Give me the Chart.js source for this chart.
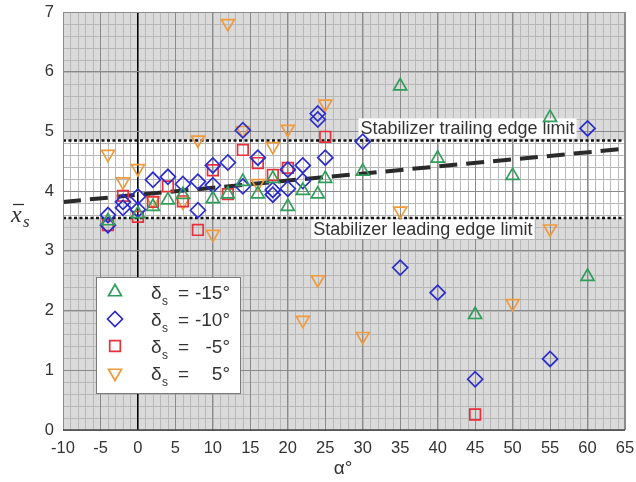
<!DOCTYPE html>
<html>
<head>
<meta charset="utf-8">
<script src="https://cdn.jsdelivr.net/npm/chart.js@4.4.0/dist/chart.umd.min.js"></script>
<style>
  html, body { margin: 0; padding: 0; background: #fff; }
  #wrap { width: 636px; height: 482px; }
</style>
</head>
<body>
<div id="wrap"><canvas id="xsChart" width="636" height="482"></canvas></div>
<script>
// Position moyenne x̄s en fonction de l'incidence α, pour 4 braquages du stabilisateur

// δs = -15°
const alphaM15 = [-4, 0, 2, 4, 6, 10, 12, 14, 16, 18, 20, 22, 24, 25, 30, 35, 40, 45, 50, 55, 60];
const xsM15 = [3.5, 3.62, 3.74, 3.85, 3.94, 3.87, 3.95, 4.16, 3.95, 4.21, 3.74, 4.01, 3.95, 4.21, 4.33, 5.76, 4.55, 1.93, 4.26, 5.23, 2.57];

// δs = -10°
const alphaM10 = [-4, -4, -2, -2, 0, 0, 2, 4, 6, 8, 8, 10, 10, 12, 14, 14, 16, 18, 18, 20, 20, 22, 22, 24, 24, 25, 30, 35, 40, 45, 55, 60];
const xsM10 = [3.6, 3.43, 3.82, 3.72, 3.91, 3.69, 4.19, 4.24, 4.12, 4.16, 3.68, 4.43, 4.1, 4.48, 5.02, 4.08, 4.56, 4.02, 3.94, 4.36, 4.04, 4.43, 4.17, 5.3, 5.2, 4.56, 4.83, 2.72, 2.3, 0.85, 1.19, 5.05];

// δs = -5°
const alphaM5 = [-4, -2, 0, 2, 4, 6, 8, 10, 12, 14, 16, 18, 20, 25, 45];
const xsM5 = [3.43, 3.92, 3.57, 3.82, 4.08, 3.83, 3.35, 4.35, 3.95, 4.69, 4.47, 4.27, 4.39, 4.91, 0.26];

// δs = 5°
const alphaP5 = [-4, -2, 0, 2, 6, 8, 10, 12, 14, 16, 18, 20, 22, 24, 25, 30, 35, 50, 55];
const xsP5 = [4.62, 4.16, 4.38, 3.84, 3.82, 4.86, 3.28, 6.81, 5.02, 4.13, 4.75, 5.04, 1.84, 2.52, 5.46, 1.57, 3.67, 2.12, 3.37];

const deltaLabels = ["-15°", "-10°", "-5°", "5°"];

// limites du stabilisateur et droite de tendance
const trailingLimit = 4.85;
const leadingLimit = 3.55;
const trendAlpha = [-10, 65];
const trendXs = [3.82, 4.71];

const xTicks = { min: -10, max: 65, step: 5 };
const yTicks = { min: 0, max: 7, step: 1 };

const FONT = "'Liberation Sans', Arial, Helvetica, sans-serif";

function toPoints(xs, ys) {
  return xs.map(function (x, i) { return { x: x, y: ys[i] }; });
}

function markerSet(label, xs, ys, color, style, radius, rotation) {
  return {
    label: label,
    data: toPoints(xs, ys),
    showLine: false,
    pointStyle: style,
    pointRadius: radius,
    pointHoverRadius: radius,
    pointRotation: rotation,
    pointBorderColor: color,
    pointBackgroundColor: "rgba(0,0,0,0)",
    pointBorderWidth: 1.7,
    borderColor: color,
    backgroundColor: "rgba(0,0,0,0)"
  };
}

function lineSet(label, xs, ys, width, dash, color) {
  return {
    label: label,
    data: toPoints(xs, ys),
    showLine: true,
    pointRadius: 0,
    borderColor: color,
    borderWidth: width,
    borderDash: dash,
    borderCapStyle: "butt",
    fill: false
  };
}

// fond gris, bande blanche entre les deux limites et grille secondaire
const backgroundPlugin = {
  id: "backgroundBand",
  beforeDraw: function (chart) {
    const ctx = chart.ctx;
    const a = chart.chartArea;
    const xs = chart.scales.x;
    const ys = chart.scales.y;
    ctx.save();
    ctx.fillStyle = "#dadada";
    ctx.fillRect(a.left, a.top, a.right - a.left, a.bottom - a.top);
    const yTop = ys.getPixelForValue(trailingLimit);
    const yBot = ys.getPixelForValue(leadingLimit);
    ctx.fillStyle = "#ffffff";
    ctx.fillRect(a.left, yTop, a.right - a.left, yBot - yTop);

    ctx.lineWidth = 1;
    ctx.strokeStyle = "#b8b8b8";
    ctx.beginPath();
    for (let v = xTicks.min; v <= xTicks.max; v += 1) {
      const px = Math.round(xs.getPixelForValue(v)) + 0.5;
      ctx.moveTo(px, a.top);
      ctx.lineTo(px, a.bottom);
    }
    for (let k = 0; k <= (yTicks.max - yTicks.min) * 5; k++) {
      const py = Math.round(ys.getPixelForValue(yTicks.min + k * 0.2)) + 0.5;
      ctx.moveTo(a.left, py);
      ctx.lineTo(a.right, py);
    }
    ctx.stroke();
    ctx.restore();
  },
  // étiquettes des limites, sous les symboles
  beforeDatasetsDraw: function (chart) {
    const ctx = chart.ctx;
    const xs = chart.scales.x;
    const ys = chart.scales.y;
    ctx.save();
    ctx.font = "18px " + FONT;
    ctx.textBaseline = "middle";
    ctx.textAlign = "left";
    const labels = [
      { text: "Stabilizer trailing edge limit", a: 29.7, y: ys.getPixelForValue(trailingLimit) - 12 },
      { text: "Stabilizer leading edge limit", a: 23.4, y: ys.getPixelForValue(leadingLimit) + 11 }
    ];
    labels.forEach(function (l) {
      const px = xs.getPixelForValue(l.a);
      const w = ctx.measureText(l.text).width;
      ctx.fillStyle = "#ffffff";
      ctx.fillRect(px - 2, l.y - 10, w + 4, 20);
      ctx.fillStyle = "#333";
      ctx.fillText(l.text, px, l.y + 1);
    });
    ctx.restore();
  },
  afterDraw: function (chart) {
    const ctx = chart.ctx;
    const a = chart.chartArea;
    ctx.save();

    // cadre
    ctx.strokeStyle = "#8c8c8c";
    ctx.lineWidth = 1;
    ctx.strokeRect(a.left + 0.5, a.top + 0.5, a.right - a.left - 1, a.bottom - a.top);
    ctx.strokeStyle = "#444";
    ctx.lineWidth = 1.5;
    ctx.beginPath();
    ctx.moveTo(a.left, a.bottom);
    ctx.lineTo(a.right, a.bottom);
    ctx.stroke();

    // légende
    const box = { x: 96, y: 277, w: 144, h: 116 };
    ctx.fillStyle = "#ffffff";
    ctx.fillRect(box.x, box.y, box.w, box.h);
    ctx.strokeStyle = "#7a7a7a";
    ctx.lineWidth = 1;
    ctx.strokeRect(box.x + 0.5, box.y + 0.5, box.w, box.h);
    const rowY = [292, 319, 346, 373];
    for (let i = 0; i < 4; i++) {
      const ds = chart.data.datasets[i];
      ctx.strokeStyle = ds.pointBorderColor;
      ctx.fillStyle = "rgba(0,0,0,0)";
      ctx.lineWidth = 1.7;
      Chart.helpers.drawPoint(ctx, {
        pointStyle: ds.pointStyle,
        rotation: ds.pointRotation,
        radius: ds.pointRadius,
        borderWidth: 1.7
      }, 115, rowY[i]);

      ctx.fillStyle = "#333";
      ctx.textBaseline = "alphabetic";
      ctx.textAlign = "left";
      ctx.font = "19px " + FONT;
      ctx.fillText("δ", 151, rowY[i] + 7);
      ctx.font = "12px " + FONT;
      ctx.fillText("s", 162, rowY[i] + 13);
      ctx.font = "19px " + FONT;
      ctx.fillText("=", 178, rowY[i] + 7);
      ctx.textAlign = "right";
      ctx.fillText(deltaLabels[i], 230, rowY[i] + 7);
    }

    // titres des axes
    ctx.fillStyle = "#333";
    ctx.textAlign = "left";
    ctx.textBaseline = "alphabetic";
    ctx.font = "italic 24px 'Liberation Serif', 'Times New Roman', serif";
    ctx.fillText("x", 11, 222);
    ctx.font = "italic 17px 'Liberation Serif', 'Times New Roman', serif";
    ctx.fillText("s", 23, 227);
    ctx.strokeStyle = "#333";
    ctx.lineWidth = 1.3;
    ctx.beginPath();
    ctx.moveTo(13, 204.5);
    ctx.lineTo(24, 204.5);
    ctx.stroke();

    ctx.font = "19px " + FONT;
    ctx.textAlign = "center";
    ctx.fillText("α°", 343, 474);
    ctx.restore();
  }
};

const ctx = document.getElementById("xsChart").getContext("2d");
new Chart(ctx, {
  type: "scatter",
  data: {
    datasets: [
      markerSet("δs = -15°", alphaM15, xsM15, "#2f9e5a", "triangle", 7.5, 0),
      markerSet("δs = -10°", alphaM10, xsM10, "#2b2bcf", "rectRot", 7.5, 0),
      markerSet("δs = -5°", alphaM5, xsM5, "#e8303c", "rect", 7.5, 0),
      markerSet("δs = 5°", alphaP5, xsP5, "#f09a3c", "triangle", 7.5, 180),
      lineSet("trend", trendAlpha, trendXs, 4, [18, 9], "#2a2a2a"),
      lineSet("trailing", [xTicks.min, xTicks.max], [trailingLimit, trailingLimit], 2.5, [3, 2.5], "#111"),
      lineSet("leading", [xTicks.min, xTicks.max], [leadingLimit, leadingLimit], 2.5, [3, 2.5], "#111")
    ]
  },
  options: {
    responsive: false,
    animation: false,
    devicePixelRatio: 1,
    clip: false,
    layout: { padding: { left: 0, right: 0, top: 12, bottom: 0 } },
    plugins: {
      legend: { display: false },
      tooltip: { enabled: false }
    },
    scales: {
      x: {
        type: "linear",
        min: xTicks.min,
        max: xTicks.max,
        afterFit: function (scale) { scale.height = 52; scale.paddingRight = 11; },
        ticks: {
          stepSize: xTicks.step,
          padding: 9,
          color: "#333",
          font: { family: FONT, size: 16.5 }
        },
        grid: {
          drawTicks: false,
          color: function (c) { return c.tick && c.tick.value === 0 ? "#000" : "#8a8a8a"; },
          lineWidth: function (c) { return c.tick && c.tick.value === 0 ? 1.5 : 1; }
        },
        border: { display: false }
      },
      y: {
        type: "linear",
        min: yTicks.min,
        max: yTicks.max,
        afterFit: function (scale) { scale.width = 63; scale.paddingTop = 0; scale.paddingBottom = 0; },
        ticks: {
          stepSize: yTicks.step,
          padding: 9,
          color: "#333",
          font: { family: FONT, size: 16.5 }
        },
        grid: {
          drawTicks: false,
          color: "#8a8a8a",
          lineWidth: 1
        },
        border: { display: false }
      }
    }
  },
  plugins: [backgroundPlugin]
});
</script>
</body>
</html>
